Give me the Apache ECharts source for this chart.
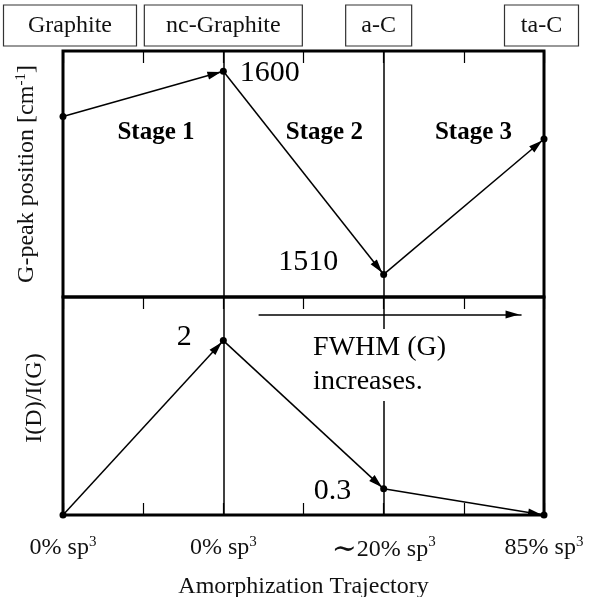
<!DOCTYPE html>
<html>
<head>
<meta charset="utf-8">
<script src="https://cdn.jsdelivr.net/npm/echarts@6/dist/echarts.min.js"></script>
<style>html,body{margin:0;padding:0;background:#fff;}#chart{width:592px;height:597px;}</style>
</head>
<body>
<div id="chart"></div>
<script>
// ---- data ----
const xPos = [0, 1, 2, 3];
const phases = ['Graphite', 'nc-Graphite', 'a-C', 'ta-C'];
const sp3Text = ['0% sp', '0% sp', '～20% sp', '85% sp'];
const gPeak = [1580, 1600, 1510, 1570];
const gPeakText = ['', '1600', '1510', ''];
const ratio = [0, 2, 0.3, 0];
const ratioText = ['', '2', '0.3', ''];
const stageNames = ['Stage 1', 'Stage 2', 'Stage 3'];
const stageX = [0.58, 1.63, 2.56];
const stageY = [1573, 1573, 1573];
const fwhmArrowX = [1.22, 2.86];
const fwhmArrowY = [2.3, 2.3];
const fwhmText = ['FWHM (G)', 'increases.'];
const fwhmTextPos = [1.56, 1.72];
const stageBorders = [1, 2];

// ---- layout / style ----
const FONT = "'Liberation Serif', 'Times New Roman', serif";
const boxWidths = [133, 158, 66, 74];
const boxShift = [14, 0, -10, -5];
const gLabelLayout = [null, {position: 'right', distance: 13, offset: [0, 2]}, {position: 'left', distance: 42, offset: [0, -12]}, null];
const rLabelLayout = [null, {position: 'left', distance: 28, offset: [0, -3]}, {position: 'left', distance: 29, offset: [0, 2]}, null];
const ARROW = 'path://M0,0 L4,9 L-4,9 Z M0,-12 L0.01,-12 L0,-12 Z';

const chart = echarts.init(document.getElementById('chart'), null, {renderer: 'canvas'});

const boxRich = {};
phases.forEach((p, i) => {
  boxRich['b' + i] = {width: boxWidths[i], height: 41, lineHeight: 41, align: 'center',
    borderColor: '#333', borderWidth: 1.2, fontSize: 24, fontFamily: FONT, color: '#111'};
});
[14, 10, 5].forEach(w => { boxRich['sp' + w] = {width: w, height: 1}; });

function intIndex(v) {
  const r = Math.round(v);
  return Math.abs(v - r) < 1e-6 ? r : -1;
}

function segments(ys) {
  const out = [];
  for (let i = 0; i < xPos.length - 1; i++) {
    out.push({coords: [[xPos[i], ys[i]], [xPos[i + 1], ys[i + 1]]]});
  }
  return out;
}

const arrowLines = (xi, yi, data) => ({
  type: 'lines', coordinateSystem: 'cartesian2d', xAxisIndex: xi, yAxisIndex: yi,
  data: data, symbol: ['none', ARROW], symbolSize: [1, [8, 32]],
  lineStyle: {color: '#000', width: 1.5, opacity: 1}, itemStyle: {color: '#000', opacity: 1},
  silent: true, z: 3
});

const vLines = {
  silent: true, symbol: ['none', 'none'], label: {show: false},
  lineStyle: {color: '#000', width: 1.5, type: 'solid', opacity: 1},
  data: stageBorders.map(x => ({xAxis: x}))
};

const gridBase = {left: 63, width: 481, show: true, borderColor: '#000', borderWidth: 3,
  backgroundColor: 'transparent', containLabel: false, outerBoundsMode: 'none'};

const option = {
  backgroundColor: '#fff',
  animation: false,
  textStyle: {fontFamily: FONT, color: '#000'},
  grid: [
    Object.assign({top: 51, height: 246}, gridBase),
    Object.assign({top: 297, height: 218}, gridBase)
  ],
  xAxis: [
    {gridIndex: 0, type: 'value', min: 0, max: 3, interval: 0.5, position: 'top',
      axisLine: {show: false}, splitLine: {show: false},
      axisTick: {show: true, inside: true, length: 12, lineStyle: {color: '#000', width: 1.2}},
      axisLabel: {show: true, margin: 5, showMinLabel: true, showMaxLabel: true, rich: boxRich,
        formatter: v => {
          const i = intIndex(v);
          if (i < 0) return '';
          let s = '{b' + i + '|' + phases[i] + '}';
          if (boxShift[i] > 0) s = '{sp' + boxShift[i] + '|}' + s;
          if (boxShift[i] < 0) s = s + '{sp' + (-boxShift[i]) + '|}';
          return s;
        }}},
    {gridIndex: 1, type: 'value', min: 0, max: 3, interval: 0.5, position: 'bottom',
      axisLine: {show: false}, splitLine: {show: false},
      axisTick: {show: true, inside: true, length: 12, lineStyle: {color: '#000', width: 1.2}},
      axisLabel: {show: true, margin: 20, showMinLabel: true, showMaxLabel: true,
        fontSize: 24, fontFamily: FONT, color: '#111',
        rich: {m: {fontSize: 24, fontFamily: FONT, color: '#111'},
               t: {fontSize: 30, fontFamily: "'DejaVu Serif', serif", color: '#111'},
               s: {fontSize: 15, fontFamily: FONT, color: '#111', verticalAlign: 'top', padding: [0, 0, 10, 0]}},
        formatter: v => {
          const i = intIndex(v);
          if (i < 0) return '';
          let txt = sp3Text[i];
          let pre = '';
          if (txt.charAt(0) === '～') { pre = '{t|∼}'; txt = txt.slice(1); }
          return pre + '{m|' + txt + '}{s|3}';
        }},
      name: 'Amorphization Trajectory', nameLocation: 'middle', nameGap: 60,
      nameTextStyle: {fontSize: 24, fontFamily: FONT, color: '#111'}},
    {gridIndex: 1, type: 'value', min: 0, max: 3, interval: 0.5, position: 'top',
      axisLine: {show: false}, splitLine: {show: false}, axisLabel: {show: false},
      axisTick: {show: true, inside: true, length: 12, lineStyle: {color: '#000', width: 1.2}}}
  ],
  yAxis: [
    {gridIndex: 0, type: 'value', min: 1500, max: 1609,
      axisLine: {show: false}, axisTick: {show: false}, axisLabel: {show: false}, splitLine: {show: false},
      name: 'G-peak position [cm{s|-1}]', nameLocation: 'middle', nameGap: 24,
      nameTextStyle: {fontSize: 24, fontFamily: FONT, color: '#111',
        rich: {s: {fontSize: 15, fontFamily: FONT, color: '#111', verticalAlign: 'top', padding: [0, 0, 10, 0]}}}},
    {gridIndex: 1, type: 'value', min: 0, max: 2.5,
      axisLine: {show: false}, axisTick: {show: false}, axisLabel: {show: false}, splitLine: {show: false},
      name: 'I(D)/I(G)', nameLocation: 'middle', nameGap: 16,
      nameTextStyle: {fontSize: 24, fontFamily: FONT, color: '#111', padding: [0, 0, 0, 16]}}
  ],
  series: [
    {type: 'scatter', xAxisIndex: 0, yAxisIndex: 0, symbolSize: 7, itemStyle: {color: '#000', opacity: 1}, z: 4,
      data: xPos.map((x, i) => {
        const item = {value: [x, gPeak[i]]};
        if (gLabelLayout[i]) item.label = Object.assign({show: true, formatter: gPeakText[i]}, gLabelLayout[i]);
        return item;
      }),
      label: {show: false, fontSize: 30, fontFamily: FONT, color: '#000'},
      markLine: vLines},
    arrowLines(0, 0, segments(gPeak)),
    {type: 'scatter', xAxisIndex: 0, yAxisIndex: 0, symbolSize: 0, silent: true, itemStyle: {opacity: 1},
      data: stageNames.map((n, i) => ({value: [stageX[i], stageY[i]], name: n})),
      label: {show: true, position: 'inside', formatter: '{b}', fontSize: 25, fontWeight: 'bold', fontFamily: FONT, color: '#000'}},
    {type: 'scatter', xAxisIndex: 1, yAxisIndex: 1, symbolSize: 7, itemStyle: {color: '#000', opacity: 1}, z: 4,
      data: xPos.map((x, i) => {
        const item = {value: [x, ratio[i]]};
        if (rLabelLayout[i]) item.label = Object.assign({show: true, formatter: ratioText[i]}, rLabelLayout[i]);
        return item;
      }),
      label: {show: false, fontSize: 30, fontFamily: FONT, color: '#000'},
      markLine: vLines},
    arrowLines(1, 1, segments(ratio)),
    arrowLines(1, 1, [{coords: [[fwhmArrowX[0], fwhmArrowY[0]], [fwhmArrowX[1], fwhmArrowY[1]]]}]),
    {type: 'scatter', xAxisIndex: 1, yAxisIndex: 1, symbolSize: 0, silent: true, z: 10, itemStyle: {opacity: 1},
      data: [{value: fwhmTextPos}],
      label: {show: true, position: 'inside', align: 'left', verticalAlign: 'middle',
        formatter: fwhmText.join('\n'), fontSize: 28, lineHeight: 34, fontFamily: FONT, color: '#000',
        backgroundColor: '#fff', padding: [2, 2, 2, 0]}}
  ]
};
chart.setOption(option);
</script>
</body>
</html>
